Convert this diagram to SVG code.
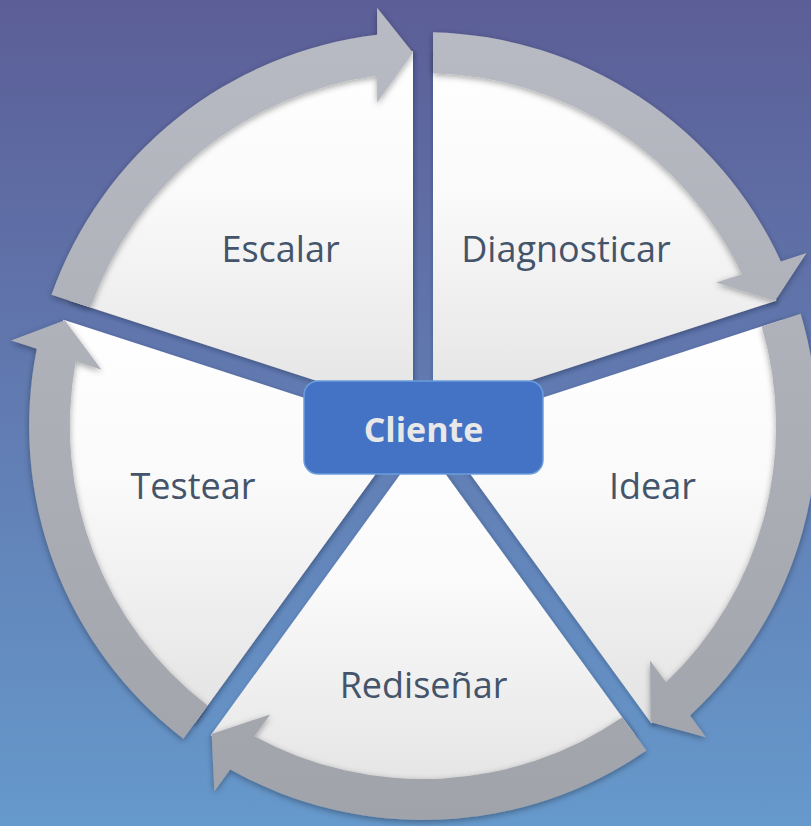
<svg xmlns="http://www.w3.org/2000/svg" width="811" height="826" viewBox="0 0 811 826">
  <defs>
    <linearGradient id="bg" x1="0" y1="0" x2="0" y2="826" gradientUnits="userSpaceOnUse">
      <stop offset="0" stop-color="#5c5e97"/>
      <stop offset="1" stop-color="#6699cc"/>
    </linearGradient>
    <linearGradient id="segFill" x1="0" y1="0" x2="0" y2="1">
      <stop offset="0" stop-color="#ffffff"/>
      <stop offset="0.4" stop-color="#fafafa"/>
      <stop offset="1" stop-color="#e3e3e3"/>
    </linearGradient>
    <linearGradient id="ringFill" x1="0" y1="8" x2="0" y2="822" gradientUnits="userSpaceOnUse">
      <stop offset="0" stop-color="#b8bbc3"/>
      <stop offset="1" stop-color="#a1a3ab"/>
    </linearGradient>
    <filter id="segShadow" x="-10%" y="-10%" width="120%" height="120%">
      <feDropShadow dx="1" dy="2" stdDeviation="2.5" flood-color="#1a2340" flood-opacity="0.45"/>
    </filter>
    <filter id="ringShadow" x="-10%" y="-10%" width="120%" height="120%">
      <feDropShadow dx="0" dy="2" stdDeviation="3" flood-color="#000000" flood-opacity="0.35"/>
    </filter>
  </defs>
  <style>
    .seg { fill: url(#segFill); }
    .ring { fill: url(#ringFill); }
    .label { font-family: "Open Sans", "Noto Sans", "Liberation Sans", sans-serif; font-size: 36px; fill: #44546a; text-anchor: middle; }
    .hub { fill: #4472c4; stroke: #6a9ddb; stroke-width: 1.5; }
    .hubText { font-family: "Open Sans", "Noto Sans", "Liberation Sans", sans-serif; font-size: 34px; font-weight: 700; fill: #e8e8e8; text-anchor: middle; }
  </style>

  <!-- background -->
  <rect x="0" y="0" width="811" height="826" fill="url(#bg)"/>

  <!-- five pie segments around the centre (423,426) -->
  <g filter="url(#segShadow)">
    <g id="diagnosticar">
      <path class="seg" d="M433,412.24 L433,51.13 A375,375 0 0 1 776.43,300.65 Z"/>
    </g>
    <g id="idear">
      <path class="seg" d="M439.18,431.26 L782.61,319.67 A375,375 0 0 1 651.44,723.40 Z"/>
    </g>
    <g id="redisenar">
      <path class="seg" d="M423,443.01 L635.25,735.16 A375,375 0 0 1 210.75,735.16 Z"/>
    </g>
    <g id="testear">
      <path class="seg" d="M406.82,431.26 L194.57,723.40 A375,375 0 0 1 63.39,319.67 Z"/>
    </g>
    <g id="escalar">
      <path class="seg" d="M413,412.24 L69.57,300.65 A375,375 0 0 1 413,51.13 Z"/>
    </g>
  </g>

  <!-- circular arrows between the segments -->
  <g id="connectors" filter="url(#ringShadow)">
    <path class="ring" d="M433,32.13 A394,394 0 0 1 780.84,261.47 L806.52,253.12 L775.01,301.11 L716.16,282.48 L741.84,274.13 A353,353 0 0 0 433,73.14 Z"/>
    <path class="ring" d="M800.68,313.80 A394,394 0 0 1 690.06,715.47 L705.93,737.32 L650.55,722.18 L650.09,660.46 L665.96,682.31 A353,353 0 0 0 761.68,326.47 Z"/>
    <path class="ring" d="M646.42,750.53 A394,394 0 0 1 230.22,769.44 L214.35,791.29 L211.63,733.94 L270.19,714.43 L254.32,736.28 A353,353 0 0 0 622.32,717.35 Z"/>
    <path class="ring" d="M183.40,738.77 A394,394 0 0 1 36.79,348.79 L11.11,340.44 L64.81,320.13 L101.47,369.80 L75.79,361.45 A353,353 0 0 0 207.50,705.59 Z"/>
    <path class="ring" d="M51.50,294.78 A394,394 0 0 1 377.09,34.83 L377.09,7.83 L413,52.63 L377.09,102.83 L377.09,75.83 A353,353 0 0 0 90.50,307.45 Z"/>
  </g>

  <!-- segment labels -->
  <g id="labels">
    <text class="label" x="280.5" y="262">Escalar</text>
    <text class="label" x="566" y="262">Diagnosticar</text>
    <text class="label" x="652.5" y="499">Idear</text>
    <text class="label" x="423.5" y="698">Rediseñar</text>
    <text class="label" x="193" y="499">Testear</text>
  </g>

  <!-- hub -->
  <g id="cliente">
    <rect class="hub" x="304" y="381" width="239" height="93" rx="14" ry="14"/>
    <text class="hubText" x="423.5" y="442">Cliente</text>
  </g>
</svg>
